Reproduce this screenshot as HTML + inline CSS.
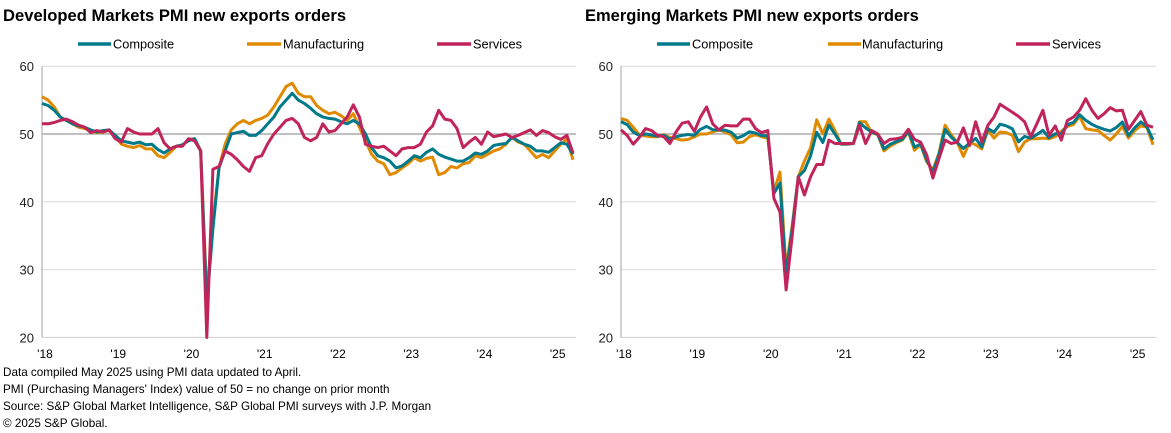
<!DOCTYPE html>
<html><head><meta charset="utf-8"><style>
body{margin:0;width:1171px;height:433px;background:#fff;overflow:hidden;font-family:"Liberation Sans",Arial,sans-serif;}
svg{position:absolute;left:0;top:0}
</style></head><body>
<svg id="s" width="1171" height="433" xmlns="http://www.w3.org/2000/svg" font-family="Liberation Sans, Arial, sans-serif">
<text x="3" y="21" font-size="16.6" font-weight="bold" fill="#000">Developed Markets PMI new exports orders</text>
<text x="585" y="21" font-size="16.5" font-weight="bold" fill="#000">Emerging Markets PMI new exports orders</text>
<g font-size="12.8" fill="#000">
<line x1="78" y1="44" x2="111" y2="44" stroke="#007a8a" stroke-width="3.5"/><text x="113" y="48.5">Composite</text>
<line x1="247" y1="44" x2="281" y2="44" stroke="#e08a00" stroke-width="3.5"/><text x="283" y="48.5">Manufacturing</text>
<line x1="437" y1="44" x2="471" y2="44" stroke="#c0245a" stroke-width="3.5"/><text x="473" y="48.5">Services</text>
<line x1="657" y1="44" x2="690" y2="44" stroke="#007a8a" stroke-width="3.5"/><text x="692" y="48.5">Composite</text>
<line x1="828" y1="44" x2="861" y2="44" stroke="#e08a00" stroke-width="3.5"/><text x="862" y="48.5">Manufacturing</text>
<line x1="1016" y1="44" x2="1050" y2="44" stroke="#c0245a" stroke-width="3.5"/><text x="1052" y="48.5">Services</text>
</g>
<g id="g"></g>
<g font-size="11.7" fill="#000">
<text x="3" y="376">Data compiled May 2025 using PMI data updated to April.</text>
<text x="3" y="393">PMI (Purchasing Managers' Index) value of 50 = no change on prior month</text>
<text x="3" y="410">Source: S&amp;P Global Market Intelligence, S&amp;P Global PMI surveys with J.P. Morgan</text>
<text x="3" y="427">© 2025 S&amp;P Global.</text>
</g>
</svg>
<script>
var dmM=[55.5,55.0,54.0,52.5,52.0,51.5,51.0,50.8,50.5,50.2,50.3,50.5,49.8,48.5,48.2,48.0,48.3,47.8,47.8,46.8,46.5,47.3,48.2,48.3,49.2,49.3,47.5,26.0,37.0,45.0,48.5,50.6,51.5,52.0,51.5,52.0,52.3,52.8,54.0,55.5,57.0,57.5,56.0,55.5,55.5,54.2,53.5,53.0,53.2,52.7,52.0,53.0,51.0,49.0,47.0,46.0,45.6,44.0,44.3,45.0,45.6,46.5,46.0,46.4,46.6,44.0,44.3,45.2,45.0,45.6,45.8,46.8,46.5,47.0,47.5,47.8,48.5,49.5,48.8,48.5,47.5,46.5,47.0,46.5,47.5,48.5,49.3,46.2];
var dmC=[54.5,54.2,53.5,52.5,52.0,51.5,51.2,51.0,50.6,50.3,50.5,50.6,49.8,49.0,48.8,48.6,48.8,48.4,48.5,47.7,47.2,47.8,48.2,48.4,49.0,49.3,47.5,25.0,36.0,45.0,47.5,50.0,50.2,50.4,49.8,49.8,50.5,51.5,52.5,54.0,55.0,56.0,55.0,54.5,53.8,53.0,52.5,52.3,52.2,51.8,51.5,52.0,51.5,50.0,48.0,46.8,46.5,46.0,45.0,45.3,46.0,46.8,46.5,47.3,47.8,47.0,46.6,46.3,46.0,46.0,46.5,47.2,47.0,47.5,48.3,48.5,48.6,49.5,49.0,48.5,48.2,47.5,47.5,47.3,48.0,48.7,48.5,47.0];
var dmS=[51.5,51.5,51.7,52.0,52.2,51.8,51.3,51.0,50.2,50.5,50.3,50.6,49.3,48.8,50.8,50.3,50.0,50.0,50.0,50.8,48.7,47.8,48.2,48.2,49.3,49.0,47.5,20.0,44.8,45.2,47.5,47.0,46.2,45.2,44.5,46.5,46.8,48.6,50.0,51.0,52.0,52.3,51.5,49.5,49.0,49.5,51.5,50.3,50.5,51.5,52.5,54.3,52.5,48.5,48.2,48.0,48.2,47.5,46.8,47.8,48.0,48.0,48.5,50.3,51.2,53.5,52.2,52.0,50.8,48.0,48.8,49.5,48.5,50.3,49.6,49.8,50.0,49.5,49.8,50.2,50.6,49.8,50.5,50.2,49.6,49.2,49.8,47.2];
var emM=[52.3,52.0,51.0,49.9,49.7,49.6,49.6,49.9,49.5,49.3,49.1,49.2,49.6,50.0,50.0,50.3,50.6,50.3,49.9,48.7,48.8,49.6,49.9,49.6,49.4,41.5,44.4,30.0,36.5,43.7,46.0,48.0,52.1,50.0,52.2,50.5,48.5,48.5,48.6,51.8,51.8,50.2,49.9,47.5,48.2,48.7,49.1,50.3,47.6,48.4,45.9,44.7,47.2,51.3,49.9,48.7,46.7,48.8,48.4,47.8,50.6,49.4,50.3,50.2,49.8,47.4,48.8,49.3,49.3,49.4,49.3,49.6,50.4,51.1,51.4,52.6,50.8,50.6,50.5,49.8,49.1,50.0,51.1,49.4,50.5,51.2,51.0,48.4];
var emS=[50.6,49.8,48.5,49.5,50.8,50.5,49.8,49.6,48.6,50.3,51.6,51.8,50.4,52.5,54.0,51.5,50.6,51.3,51.2,51.2,52.2,52.2,50.8,50.2,50.5,40.5,38.5,27.0,35.0,43.7,41.0,43.7,45.5,45.5,49.1,48.6,48.6,48.6,48.6,51.3,48.6,50.5,50.0,48.6,49.2,49.3,49.5,50.7,49.2,48.8,46.9,43.5,46.4,49.1,48.6,48.8,50.9,48.3,51.8,48.8,51.3,52.5,54.4,53.8,53.2,52.6,51.8,49.6,51.5,53.5,49.8,51.2,49.1,52.0,52.5,53.5,55.2,53.5,52.3,53.0,53.9,53.4,53.5,50.7,52.0,53.3,51.3,51.0];
var emC=emM.map(function(v,i){return v+0.28*(emS[i]-v);});
var g=document.getElementById('g'),ns='http://www.w3.org/2000/svg';
function el(t,a,txt){var e=document.createElementNS(ns,t);for(var k in a)e.setAttribute(k,a[k]);if(txt)e.textContent=txt;g.appendChild(e);return e;}
function chart(x0,x1,xt0,series){
 var y=function(v){return 134-(v-50)*6.78;};
 [60,40,30].forEach(function(v){el('line',{x1:x0,x2:x1+3,y1:y(v),y2:y(v),stroke:'#dcdcdc','stroke-width':1});});
 el('line',{x1:x0,x2:x1+3,y1:y(20),y2:y(20),stroke:'#d0d0d0','stroke-width':1});
 el('line',{x1:x0,x2:x1+3,y1:y(50),y2:y(50),stroke:'#9a9a9a','stroke-width':1.2});
 el('line',{x1:x0,x2:x0,y1:y(60),y2:y(20),stroke:'#b0b0b0','stroke-width':1.2});
 [60,50,40,30,20].forEach(function(v){el('text',{x:x0-8,y:y(v)+5,'font-size':'13','text-anchor':'end',fill:'#222'},String(v));});
 var st=(x1-x0)/87;
 ['18','19','20','21','22','23','24','25'].forEach(function(l,i){el('text',{x:x0+xt0+i*12*st,y:358,'font-size':'12','text-anchor':'middle',fill:'#000'},"'"+l);});
 series.forEach(function(s){var p=s[0].map(function(v,i){return (x0+i*st).toFixed(1)+','+y(v).toFixed(1);}).join(' ');
  el('polyline',{points:p,fill:'none',stroke:s[1],'stroke-width':3,'stroke-linejoin':'round'});});
}
chart(42,573,3,[[dmM,'#e08a00'],[dmC,'#007a8a'],[dmS,'#c0245a']]);
chart(621,1153,3,[[emM,'#e08a00'],[emC,'#007a8a'],[emS,'#c0245a']]);
</script>
</body></html>
